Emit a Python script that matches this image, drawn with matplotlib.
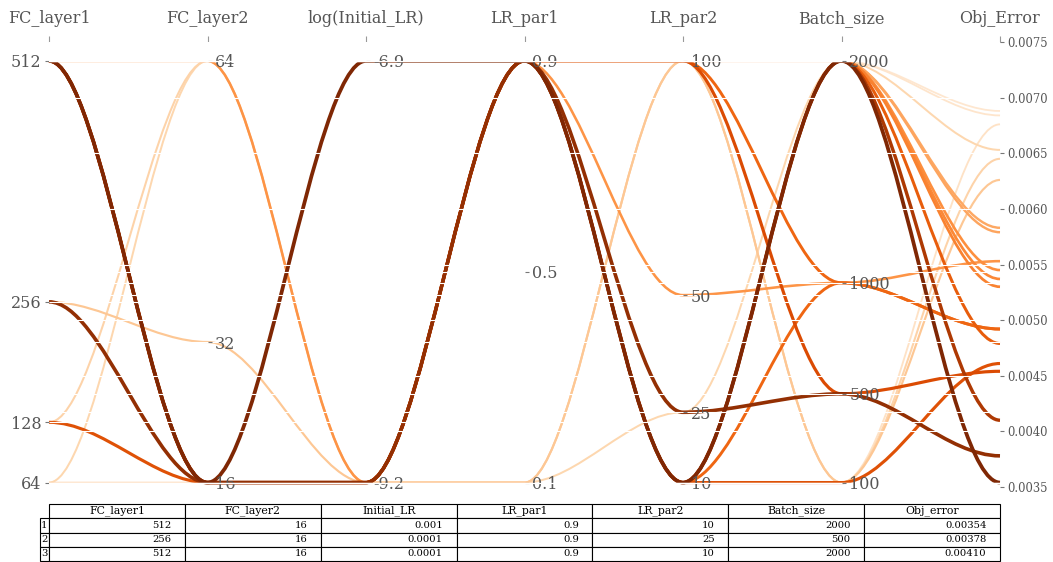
import numpy as np
import matplotlib
matplotlib.use("Agg")
import matplotlib.pyplot as plt
from matplotlib.path import Path
from matplotlib.patches import PathPatch, Rectangle

plt.rcParams['font.family'] = ['DejaVu Serif']

# ---------------- data ----------------
names = ['FC_layer1', 'FC_layer2', 'log(Initial_LR)', 'LR_par1', 'LR_par2', 'Batch_size', 'Obj_Error']
table_cols = ['FC_layer1', 'FC_layer2', 'Initial_LR', 'LR_par1', 'LR_par2', 'Batch_size', 'Obj_error']

fc_layer1  = [512, 256, 512, 512, 128, 512, 512, 512, 512, 512, 512, 512, 512, 512, 256, 128, 64, 64, 512, 512, 512]
fc_layer2  = [16, 16, 16, 16, 16, 16, 16, 16, 16, 16, 16, 64, 16, 16, 32, 64, 64, 16, 64, 64, 64]
initial_lr = [0.001, 0.0001, 0.0001, 0.0001, 0.0001, 0.0001, 0.0001, 0.0001, 0.0001, 0.0001, 0.0001,
              0.0001, 0.0001, 0.0001, 0.0001, 0.0001, 0.0001, 0.0001, 0.001, 0.001, 0.001]
lr_par1    = [0.9, 0.9, 0.9, 0.9, 0.9, 0.9, 0.9, 0.9, 0.9, 0.9, 0.9, 0.9, 0.9, 0.9, 0.1, 0.1, 0.1, 0.1, 0.9, 0.9, 0.9]
lr_par2    = [10, 25, 10, 100, 10, 10, 100, 10, 10, 10, 10, 50, 10, 100, 100, 100, 25, 100, 100, 100, 100]
batch_size = [2000, 500, 2000, 500, 100, 2000, 1000, 1000, 2000, 2000, 2000, 1000, 2000, 2000, 100, 100, 2000, 100,
              2000, 2000, 2000]
obj_error  = [0.00354, 0.00378, 0.00410, 0.00454, 0.00461, 0.00479, 0.00492, 0.00492, 0.00530, 0.00537, 0.00545,
              0.00553, 0.00579, 0.00583, 0.00626, 0.00645, 0.00653, 0.00676, 0.00684, 0.00688, 0.00733]

# axis tick values / labels
fc1_ticks = [64, 128, 256, 512]
fc2_ticks = [16, 32, 64]
lr_ticks = [np.log(0.0001), np.log(0.001)]
lr1_ticks = [0.1, 0.5, 0.9]
lr2_ticks = [10, 25, 50, 100]
bs_ticks = [100, 500, 1000, 2000]
obj_ticks = [0.0035, 0.0040, 0.0045, 0.0050, 0.0055, 0.0060, 0.0065, 0.0070, 0.0075]

# ---------------- figure ----------------
W, H = 1053, 562
fig = plt.figure(figsize=(W / 100, H / 100), dpi=100)
ax = fig.add_axes([49 / W, 75 / H, 951 / W, 445 / H])

cols = [np.array(fc_layer1, float), np.array(fc_layer2, float), np.log(np.array(initial_lr)),
        np.array(lr_par1, float), np.array(lr_par2, float), np.array(batch_size, float),
        np.array(obj_error, float)]
ticks = [fc1_ticks, fc2_ticks, lr_ticks, lr1_ticks, lr2_ticks, bs_ticks, obj_ticks]
labels = [[str(t) for t in fc1_ticks], [str(t) for t in fc2_ticks], ['%.1f' % t for t in lr_ticks],
          ['%.1f' % t for t in lr1_ticks], [str(t) for t in lr2_ticks], [str(t) for t in bs_ticks],
          ['%.4f' % t for t in obj_ticks]]

obj = cols[-1]
omin, omax = obj.min(), obj.max()
ylo, yhi = 0.0035, 0.0075
ranges = [(c.min(), c.max()) for c in cols]
ys = np.zeros((len(obj), len(cols)))
for i, c in enumerate(cols):
    vmin, vmax = ranges[i]
    ys[:, i] = (c - vmin) / (vmax - vmin) * (omax - omin) + omin

n = len(cols)
ax.set_xlim(0, n - 1)
ax.set_ylim(ylo, yhi)
for s in ax.spines.values():
    s.set_visible(False)
ax.set_yticks([])
ax.xaxis.tick_top()
ax.set_xticks(range(n))
ax.set_xticklabels(names)
ax.tick_params(axis='x', length=4.5, width=0.8, color='#999999', labelcolor='#555555',
               labelsize=11.5, pad=6.2)

cmap = plt.get_cmap('Oranges')
clip = Rectangle((-1, 0), n + 1, omax, transform=ax.transData)
order = np.argsort(-obj, kind='stable')
xs = np.linspace(0, n - 1, 3 * n - 2)
for j in order:
    t = (obj[j] - omin) / (omax - omin)
    verts = list(zip(xs, np.repeat(ys[j], 3)[1:-1]))
    codes = [Path.MOVETO] + [Path.CURVE4] * (len(verts) - 1)
    p = PathPatch(Path(verts, codes), facecolor='none', edgecolor=cmap(1 - t),
                  lw=1.1 + 1.6 * (1 - t), zorder=2)
    ax.add_patch(p)
    p.set_clip_path(clip)

# per-variable axes (ticks + white grid drawn over the lines)
for i in range(n):
    tw = ax.twinx()
    vmin, vmax = ranges[i]
    a = lambda y: (y - omin) / (omax - omin) * (vmax - vmin) + vmin
    tw.set_ylim(a(ylo), a(yhi))
    for s in tw.spines.values():
        s.set_visible(False)
    if i == 0:
        tw.yaxis.set_ticks_position('left')
        tw.spines['left'].set_position(('axes', 0))
    else:
        tw.yaxis.set_ticks_position('right')
        tw.spines['right'].set_position(('axes', i / (n - 1)))
    tw.set_yticks(ticks[i])
    tw.set_yticklabels(labels[i])
    tw.tick_params(axis='y', length=3, width=0.8, color='#777777', labelcolor='#555555',
                   labelsize=8.3 if i == n - 1 else 11.5, pad=2.5)
    tw.grid(True, axis='y', color='white', lw=0.8)

# table of the best three results
best = np.argsort(obj, kind='stable')[:3]
fmt = [str, str, str, str, str, str, lambda v: '%.5f' % v]
raw = [fc_layer1, fc_layer2, initial_lr, lr_par1, lr_par2, batch_size, obj_error]
cell_text = [[fmt[k](raw[k][b]) for k in range(n)] for b in best]
tbl = ax.table(cellText=cell_text, rowLabels=[str(k + 1) for k in range(3)], colLabels=table_cols,
               cellLoc='right', colLoc='center', rowLoc='left',
               bbox=[0, -74 / 445, 1, 57 / 445])
tbl.auto_set_font_size(False)
tbl._autoColumns = []
tbl.set_clip_on(False)
for (r, c), cell in tbl.get_celld().items():
    cell.set_linewidth(0.8)
    cell.set_width(9 / 951 if c == -1 else 1 / 7)
    cell.get_text().set_fontsize(7.8 if r == 0 else 7.2)

fig.savefig('out.png', dpi=100)
